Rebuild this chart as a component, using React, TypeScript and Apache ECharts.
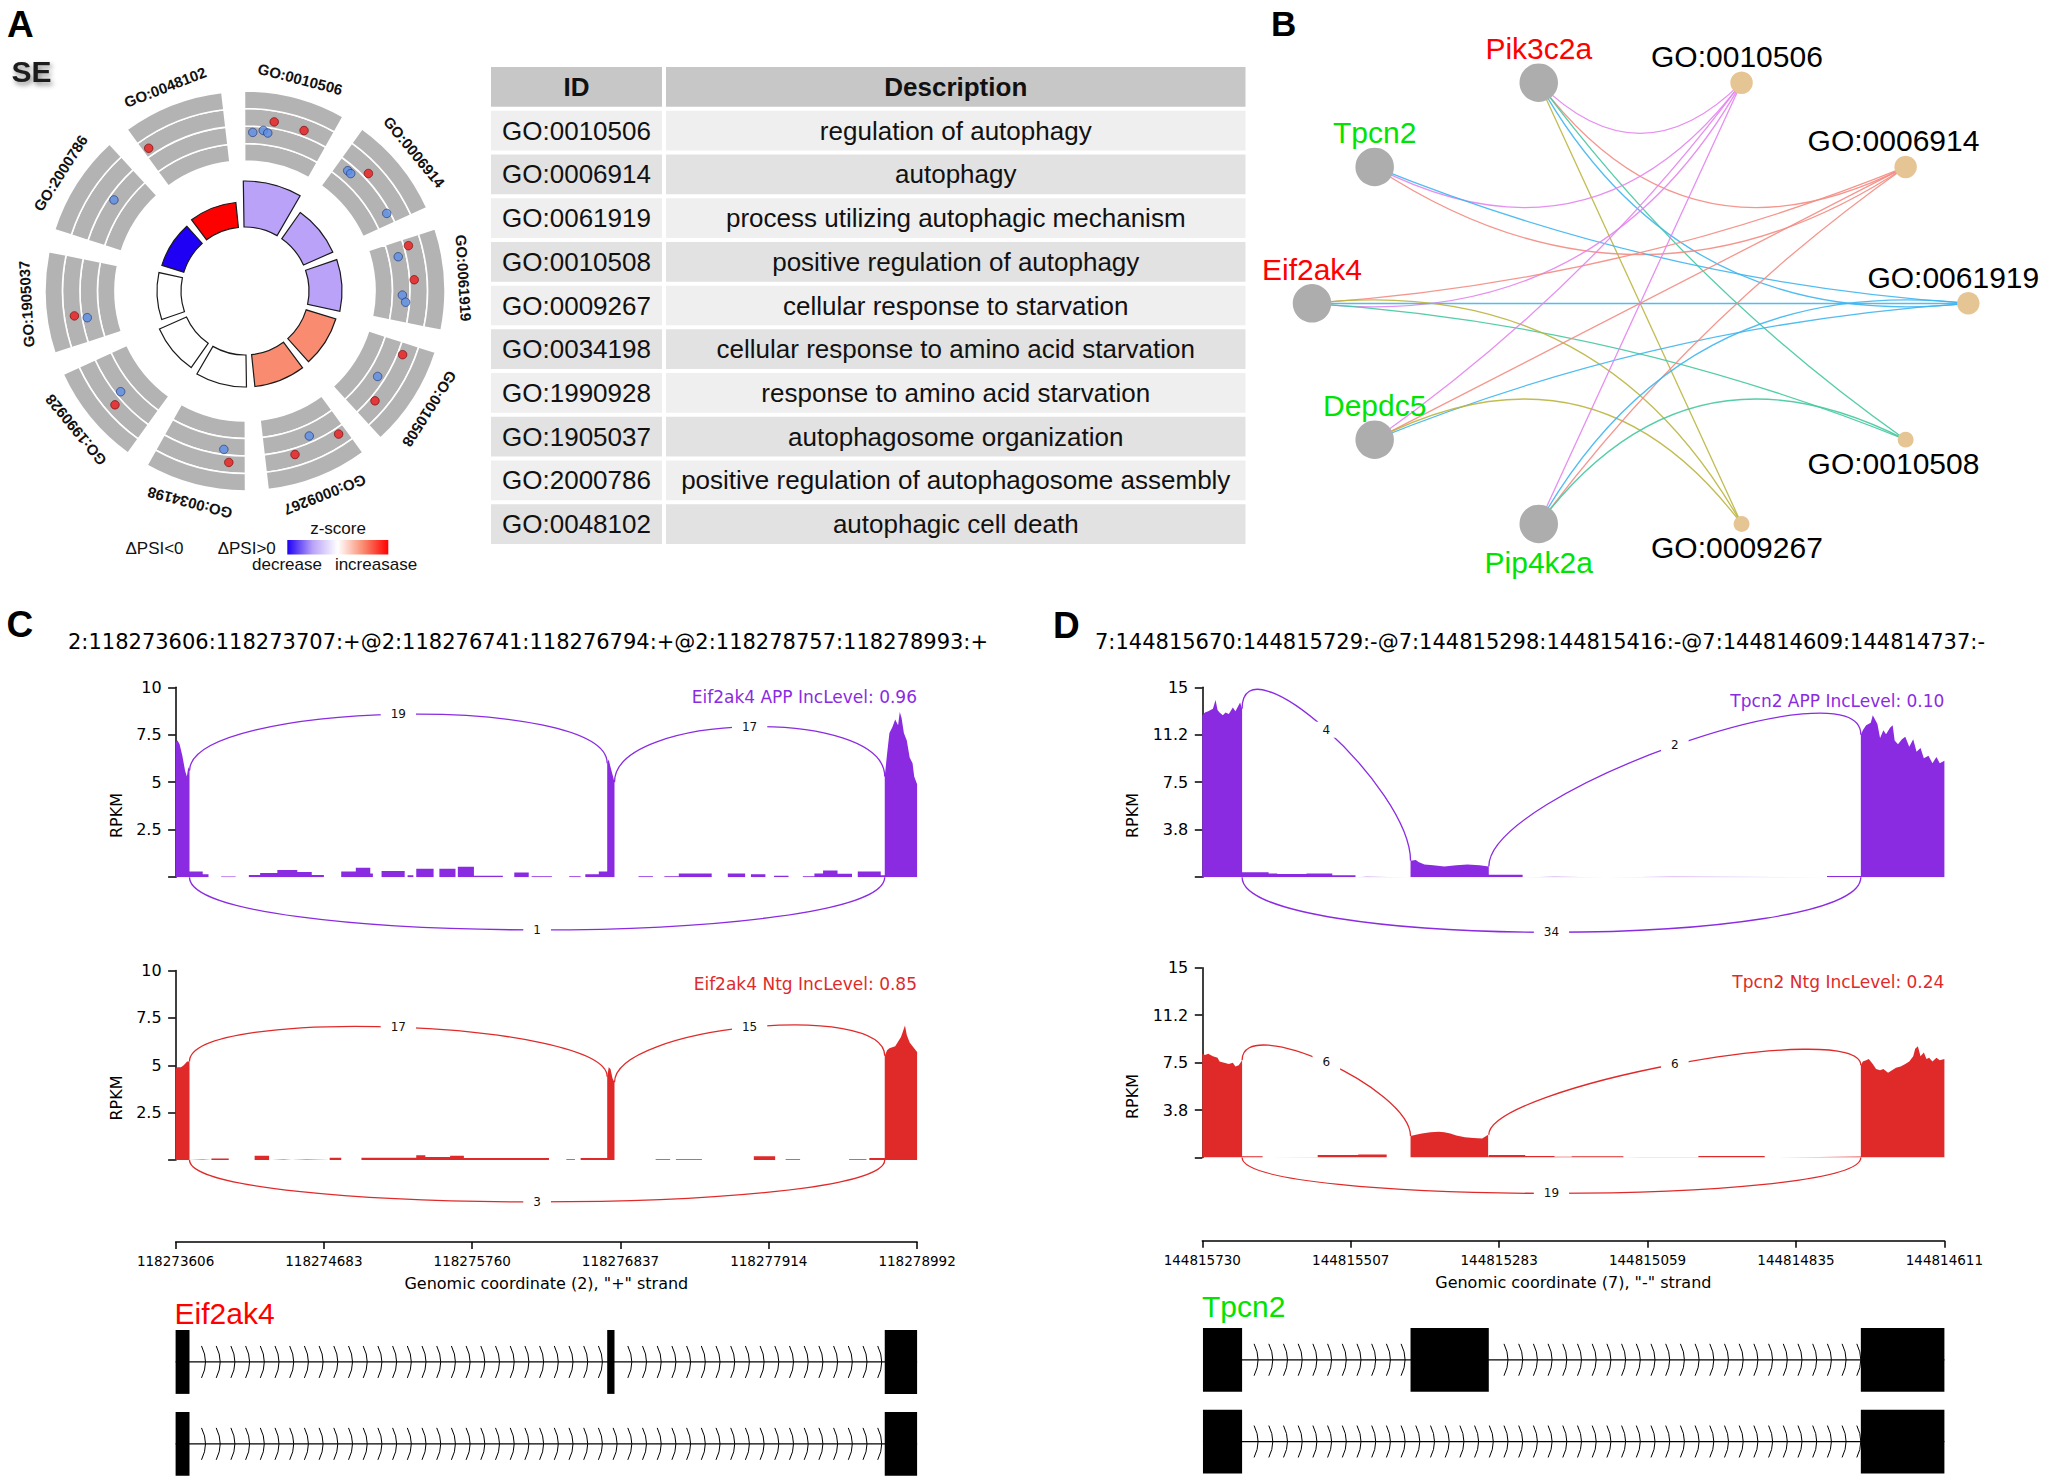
import React, { useEffect, useRef } from 'react';
import * as echarts from 'echarts';

const SANS = '"Liberation Sans", Arial, Helvetica, sans-serif';
const DEJAVU = '"DejaVu Sans", Verdana, sans-serif';

// ---------------- Panel A : GO circle + table ----------------
const goIds = ['GO:0010506', 'GO:0006914', 'GO:0061919', 'GO:0010508', 'GO:0009267', 'GO:0034198', 'GO:1990928', 'GO:1905037', 'GO:2000786', 'GO:0048102'];
const goDescriptions = ['regulation of autophagy', 'autophagy', 'process utilizing autophagic mechanism', 'positive regulation of autophagy', 'cellular response to starvation', 'cellular response to amino acid starvation', 'response to amino acid starvation', 'autophagosome organization', 'positive regulation of autophagosome assembly', 'autophagic cell death'];
const goZScores = [-1.5, -1.5, -1.5, 1.5, 1.5, 0, 0, 0, -3, 3];
const goBarHeights = [0.23, 0.16, 0.165, 0.155, 0.16, 0.16, 0.148, 0.12, 0.115, 0.125];
const dotAngles = [9.8, 20.2, 2.8, 6.5, 8.2, 40.5, 42.0, 46.4, 61.3, 74.5, 77.4, 86.2, 91.5, 94.0, 112.0, 122.8, 130.2, 156.1, 146.8, 163.0, 187.6, 185.4, 231.0, 228.8, 261.7, 260.4, 304.8, 326.0];
const dotRadii = [0.858, 0.855, 0.794, 0.808, 0.798, 0.791, 0.79, 0.852, 0.808, 0.848, 0.785, 0.848, 0.787, 0.805, 0.85, 0.789, 0.851, 0.793, 0.855, 0.855, 0.799, 0.861, 0.8, 0.864, 0.862, 0.8, 0.798, 0.861];
const dotSigns = [1, 1, -1, -1, -1, -1, -1, 1, -1, 1, -1, 1, -1, -1, 1, -1, 1, -1, 1, 1, -1, 1, -1, 1, 1, -1, -1, 1];
const zScoreColors = ['#1f00f5', '#b9a2f7', '#ffffff', '#f98c70', '#ff0000'];
const ringBands = [0.0875, 0.0875, 0.0875, 0.0875];
const tableHeader = ['ID', 'Description'];

// ---------------- Panel B : gene - GO network ----------------
const netGenes = ['Pik3c2a', 'Tpcn2', 'Eif2ak4', 'Depdc5', 'Pip4k2a'];
const netGeneUp = [true, false, true, false, false];
const netTerms = ['GO:0010506', 'GO:0006914', 'GO:0061919', 'GO:0010508', 'GO:0009267'];
const netTermColors = ['#e383ee', '#f38b82', '#3db5ef', '#43c89f', '#bab53f'];
const netCircleOrder = ['Pik3c2a', 'GO:0010506', 'GO:0006914', 'GO:0061919', 'GO:0010508', 'GO:0009267', 'Pip4k2a', 'Depdc5', 'Eif2ak4', 'Tpcn2'];
const netLabelBelow = ['GO:0010508', 'GO:0009267', 'Pip4k2a'];
const netEdges = [
  ['Pik3c2a', 'GO:0010506'], ['Pik3c2a', 'GO:0006914'], ['Pik3c2a', 'GO:0061919'], ['Pik3c2a', 'GO:0010508'], ['Pik3c2a', 'GO:0009267'],
  ['Tpcn2', 'GO:0010506'], ['Tpcn2', 'GO:0006914'], ['Tpcn2', 'GO:0061919'],
  ['Eif2ak4', 'GO:0010506'], ['Eif2ak4', 'GO:0006914'], ['Eif2ak4', 'GO:0061919'], ['Eif2ak4', 'GO:0010508'], ['Eif2ak4', 'GO:0009267'],
  ['Depdc5', 'GO:0010506'], ['Depdc5', 'GO:0006914'], ['Depdc5', 'GO:0061919'], ['Depdc5', 'GO:0009267'],
  ['Pip4k2a', 'GO:0010506'], ['Pip4k2a', 'GO:0006914'], ['Pip4k2a', 'GO:0061919'], ['Pip4k2a', 'GO:0010508'],
];
const edgeCurvenessBySeparation = { 36: 0.5, 72: 0.42, 108: 0.33, 144: 0.08, 180: 0 };

// ---------------- Panel C : Eif2ak4 sashimi ----------------
const cTitle = '2:118273606:118273707:+@2:118276741:118276794:+@2:118278757:118278993:+';
const cRange = [118273606, 118278992];
const cXTickLabels = ['118273606', '118274683', '118275760', '118276837', '118277914', '118278992'];
const cYTickLabels = ['', '2.5', '5', '7.5', '10'];
const cAppExons = [
  [[118273606, 7.1], [118273620, 7.2], [118273635, 7.0], [118273655, 6.4], [118273675, 5.6], [118273688, 5.3], [118273698, 5.8], [118273707, 5.6]],
  [[118276741, 6.0], [118276752, 6.2], [118276765, 5.8], [118276780, 5.4], [118276794, 5.0]],
  [[118278757, 5.3], [118278774, 6.5], [118278791, 7.6], [118278812, 7.9], [118278833, 8.3], [118278854, 8.0], [118278866, 8.7], [118278879, 8.4], [118278896, 7.6], [118278917, 7.2], [118278938, 6.3], [118278959, 6.0], [118278971, 5.3], [118278992, 4.9]],
];
const cAppIntrons = [
  [118273707, 118273803, 0.3], [118273803, 118273845, 0.15], [118273937, 118274042, 0.04],
  [118274138, 118274220, 0.12], [118274220, 118274345, 0.22], [118274345, 118274490, 0.38], [118274490, 118274595, 0.28], [118274595, 118274683, 0.12],
  [118274809, 118274915, 0.3], [118274915, 118275020, 0.5], [118275020, 118275039, 0.2], [118275102, 118275270, 0.32], [118275291, 118275333, 0.1],
  [118275354, 118275480, 0.45], [118275522, 118275639, 0.45], [118275656, 118275773, 0.55], [118275773, 118275983, 0.08], [118276066, 118276171, 0.25],
  [118276192, 118276339, 0.05], [118276465, 118276548, 0.05], [118276582, 118276680, 0.15], [118276680, 118276741, 0.3],
  [118276968, 118277073, 0.05], [118277156, 118277261, 0.05], [118277261, 118277500, 0.2], [118277617, 118277743, 0.2], [118277785, 118277890, 0.15],
  [118277953, 118278058, 0.08], [118278162, 118278246, 0.05], [118278246, 118278309, 0.2], [118278309, 118278414, 0.35], [118278414, 118278519, 0.18],
  [118278561, 118278728, 0.3], [118278728, 118278757, 0.1],
];
const cAppJunctions = [[118273707, 118276741, 19, 5.6, 6.0, 1], [118276794, 118278757, 17, 5.0, 5.3, 1], [118273707, 118278757, 1, 0, 0, -1]];
const cAppArcHeight = 3.7;
const cNtgExons = [
  [[118273606, 4.8], [118273620, 4.9], [118273645, 4.9], [118273665, 5.0], [118273690, 5.2], [118273707, 5.2]],
  [[118276741, 4.4], [118276752, 4.9], [118276765, 4.8], [118276780, 4.3], [118276794, 4.1]],
  [[118278757, 5.5], [118278774, 5.8], [118278791, 5.9], [118278833, 6.0], [118278875, 6.5], [118278904, 7.1], [118278917, 6.6], [118278938, 6.2], [118278959, 6.0], [118278992, 5.7]],
];
const cNtgIntrons = [
  [118273707, 118273803, 0.03], [118273866, 118273992, 0.08], [118274180, 118274285, 0.22], [118274306, 118274390, 0.03], [118274450, 118274557, 0.03],
  [118274725, 118274809, 0.12], [118274956, 118275354, 0.12], [118275354, 118275420, 0.25], [118275420, 118275600, 0.16], [118275600, 118275700, 0.22],
  [118275700, 118276318, 0.1], [118276444, 118276507, 0.04], [118276548, 118276741, 0.1],
  [118277093, 118277198, 0.04], [118277240, 118277429, 0.04], [118277806, 118277961, 0.2], [118278037, 118278142, 0.04], [118278498, 118278624, 0.04], [118278645, 118278757, 0.1],
];
const cNtgJunctions = [[118273707, 118276741, 17, 5.2, 4.4, 1], [118276794, 118278757, 15, 4.1, 5.5, 1], [118273707, 118278757, 3, 0, 0, -1]];
const cNtgArcHeight = 2.95;
const cTranscripts = [
  [[118273606, 118273707], [118276741, 118276794], [118278757, 118278993]],
  [[118273606, 118273707], [118278757, 118278993]],
];

// ---------------- Panel D : Tpcn2 sashimi ----------------
const dTitle = '7:144815670:144815729:-@7:144815298:144815416:-@7:144814609:144814737:-';
const dRange = [144814611, 144815730];
const dXTickLabels = ['144815730', '144815507', '144815283', '144815059', '144814835', '144814611'];
const dYTickLabels = ['', '3.8', '7.5', '11.2', '15'];
const dAppExons = [
  [[144815730, 12.8], [144815726, 13.0], [144815721, 13.1], [144815714, 13.3], [144815710, 14.0], [144815707, 13.2], [144815704, 13.0], [144815699, 12.8], [144815695, 13.0], [144815690, 12.9], [144815684, 13.4], [144815680, 13.1], [144815676, 13.5], [144815673, 13.8], [144815670, 13.3]],
  [[144815416, 1.3], [144815408, 1.35], [144815404, 1.2], [144815395, 1.0], [144815382, 0.95], [144815365, 0.85], [144815347, 0.95], [144815330, 1.0], [144815312, 0.95], [144815298, 0.85]],
  [[144814737, 11.26], [144814734, 11.6], [144814729, 12.0], [144814722, 12.2], [144814719, 12.8], [144814712, 12.1], [144814708, 11.0], [144814703, 11.6], [144814699, 11.3], [144814693, 11.8], [144814689, 12.0], [144814686, 10.8], [144814681, 10.5], [144814675, 10.9], [144814670, 11.1], [144814664, 10.3], [144814658, 10.9], [144814653, 9.9], [144814647, 10.2], [144814642, 9.4], [144814635, 9.6], [144814629, 9.0], [144814623, 9.5], [144814618, 9.0], [144814611, 9.2]],
];
const dAppIntrons = [
  [144815670, 144815630, 0.4], [144815630, 144815617, 0.3], [144815617, 144815573, 0.25], [144815573, 144815534, 0.3], [144815534, 144815499, 0.15], [144815499, 144815482, 0.04],
  [144815298, 144815247, 0.2], [144815247, 144815199, 0.03], [144815121, 144815021, 0.03], [144814788, 144814737, 0.1],
];
const dAppJunctions = [[144815670, 144815416, 4, 13.3, 1.3, 1], [144815298, 144814737, 2, 0.85, 11.26, 1], [144815670, 144814737, 34, 0, 0, -1]];
const dAppArcHeight = 5.8;
const dNtgExons = [
  [[144815730, 8.2], [144815726, 8.1], [144815721, 8.2], [144815714, 8.0], [144815707, 7.9], [144815704, 7.6], [144815697, 7.5], [144815690, 7.4], [144815684, 7.5], [144815680, 7.2], [144815675, 7.3], [144815670, 7.7]],
  [[144815416, 1.7], [144815408, 1.8], [144815399, 1.9], [144815386, 2.0], [144815373, 2.05], [144815365, 2.0], [144815356, 1.9], [144815347, 1.75], [144815334, 1.6], [144815321, 1.55], [144815308, 1.5], [144815299, 1.8]],
  [[144814737, 7.3], [144814734, 7.6], [144814729, 7.7], [144814725, 7.8], [144814719, 7.4], [144814714, 7.0], [144814708, 6.9], [144814703, 7.0], [144814696, 6.7], [144814690, 6.9], [144814684, 7.1], [144814677, 7.2], [144814670, 7.4], [144814664, 7.6], [144814658, 8.0], [144814655, 8.6], [144814651, 8.8], [144814647, 8.0], [144814642, 8.3], [144814638, 7.8], [144814634, 7.9], [144814629, 7.6], [144814623, 7.9], [144814618, 7.7], [144814611, 7.8]],
];
const dNtgIntrons = [
  [144815670, 144815639, 0.1], [144815639, 144815556, 0.02], [144815556, 144815495, 0.2], [144815495, 144815452, 0.25],
  [144815298, 144815243, 0.2], [144815243, 144815199, 0.12], [144815199, 144815173, 0.06], [144815173, 144815095, 0.1], [144815095, 144815069, 0.03],
  [144815069, 144814982, 0.03], [144814982, 144814882, 0.12], [144814882, 144814829, 0.03], [144814829, 144814737, 0.08],
];
const dNtgJunctions = [[144815670, 144815416, 6, 7.7, 1.7, 1], [144815298, 144814737, 6, 1.8, 7.3, 1], [144815670, 144814737, 19, 0, 0, -1]];
const dNtgArcHeight = 3.77;
const dTranscripts = [
  [[144815670, 144815729], [144815298, 144815416], [144814609, 144814737]],
  [[144815670, 144815729], [144814609, 144814737]],
];

const PURPLE = '#8a2be2';
const RED = '#e02a2a';
const GENE_RED = '#ff0000';
const GENE_GREEN = '#00e400';

// ---------------- helpers ----------------
function hexToRgb(h) {
  const n = parseInt(h.slice(1), 16);
  return [(n >> 16) & 255, (n >> 8) & 255, n & 255];
}
function zColor(z) {
  const t = Math.max(0, Math.min(1, (z + 3) / 6));
  const n = zScoreColors.length - 1;
  const i = Math.min(n - 1, Math.floor(t * n));
  const f = t * n - i;
  const a = hexToRgb(zScoreColors[i]);
  const b = hexToRgb(zScoreColors[i + 1]);
  return 'rgb(' + a.map((v, k) => Math.round(v + (b[k] - v) * f)).join(',') + ')';
}
function buildCoverage(exons, introns, descending) {
  const segs = exons.map((e) => e.slice()).concat(introns.map((b) => [[b[0], b[2]], [b[1], b[2]]]));
  segs.sort((s, t) => (descending ? t[0][0] - s[0][0] : s[0][0] - t[0][0]));
  const out = [];
  segs.forEach((s) => {
    out.push([s[0][0], 0]);
    s.forEach((p) => out.push(p));
    out.push([s[s.length - 1][0], 0]);
  });
  return out;
}
function arcRenderer(color, H) {
  return (params, api) => {
    const x1 = api.value(0), x2 = api.value(1), n = api.value(2), y1 = api.value(3), y2 = api.value(4), side = api.value(5);
    const pts = side > 0 ? [[x1, y1], [x1, y1 + H], [x2, y2 + H], [x2, y2]] : [[x1, 0], [x1, -H], [x2, -H], [x2, 0]];
    const p = pts.map((q) => api.coord(q));
    const mx = 0.125 * p[0][0] + 0.375 * p[1][0] + 0.375 * p[2][0] + 0.125 * p[3][0];
    const my = 0.125 * p[0][1] + 0.375 * p[1][1] + 0.375 * p[2][1] + 0.125 * p[3][1];
    return {
      type: 'group',
      children: [
        {
          type: 'bezierCurve',
          shape: { x1: p[0][0], y1: p[0][1], cpx1: p[1][0], cpy1: p[1][1], cpx2: p[2][0], cpy2: p[2][1], x2: p[3][0], y2: p[3][1] },
          style: { stroke: color, fill: 'none', lineWidth: 1.3 },
        },
        {
          type: 'text',
          x: mx,
          y: my,
          style: {
            text: String(n), fill: '#111', fontSize: 12, fontFamily: DEJAVU,
            align: 'center', verticalAlign: 'middle', textAlign: 'center', textVerticalAlign: 'middle',
            backgroundColor: '#ffffff', padding: [2, 10],
          },
        },
      ],
    };
  };
}
function geneRenderer(transcripts, range) {
  return (params, api) => {
    const row = params.dataIndex;
    const exons = transcripts[row];
    const band = api.size([0, 1])[1];
    const h = band * 0.78;
    const yc = api.coord([range[0], row])[1];
    const cl = (v) => Math.max(range[0], Math.min(range[1], v));
    const spans = exons
      .map((e) => {
        const a = api.coord([cl(e[0]), row])[0];
        const b = api.coord([cl(e[1]), row])[0];
        return [Math.min(a, b), Math.max(a, b)];
      })
      .sort((a, b) => a[0] - b[0]);
    const children = [];
    const left = spans[0][0];
    const right = spans[spans.length - 1][1];
    children.push({ type: 'line', shape: { x1: left, y1: yc, x2: right, y2: yc }, style: { stroke: '#000', lineWidth: 1.2 } });
    const chevH = h * 0.25;
    for (let x = spans[0][1] + 12; x < spans[spans.length - 1][0] - 3; x += 14.7) {
      if (spans.some((s) => x > s[0] - 3 && x < s[1] + 1)) continue;
      children.push({
        type: 'bezierCurve',
        shape: { x1: x, y1: yc - chevH, cpx1: x + 8, cpy1: yc, x2: x, y2: yc + chevH },
        style: { stroke: '#000', fill: 'none', lineWidth: 1 },
      });
    }
    spans.forEach((s) => {
      children.push({ type: 'rect', shape: { x: s[0], y: yc - h / 2, width: s[1] - s[0], height: h }, style: { fill: '#000' } });
    });
    return { type: 'group', children };
  };
}
function txt(text, x, y, font, fill, align, extra) {
  return {
    type: 'text', x, y, silent: true,
    style: Object.assign({ text, font, fill, align: align || 'left', textAlign: align || 'left', verticalAlign: 'middle', textVerticalAlign: 'middle' }, extra || {}),
  };
}

function buildOption() {
  const base = { containLabel: false, outerBoundsMode: 'none' };
  const grid = [
    { left: 175.6, top: 687.3, width: 741.5, height: 189.9 },
    { left: 175.6, top: 970.6, width: 741.5, height: 189.4 },
    { left: 175.6, top: 1231.9, width: 741.5, height: 10 },
    { left: 175.6, top: 1321, width: 741.5, height: 163.8 },
    { left: 1202.3, top: 687.3, width: 742.1, height: 189.9 },
    { left: 1202.3, top: 967.8, width: 742.1, height: 189.8 },
    { left: 1202.3, top: 1230.7, width: 742.1, height: 10 },
    { left: 1202.3, top: 1318.9, width: 742.1, height: 163.5 },
    { left: 489, top: 65, width: 758.5, height: 481 },
    { left: 1312, top: 71.3, width: 656.3, height: 464 },
  ].map((g) => Object.assign({}, base, g));

  const hiddenX = (gi, range, inverse) => ({ gridIndex: gi, type: 'value', min: range[0], max: range[1], inverse: !!inverse, show: false });
  const visibleX = (gi, labels, name) => ({
    gridIndex: gi, type: 'value', min: 0, max: 5, interval: 1, position: 'bottom',
    axisLine: { show: true, lineStyle: { color: '#000', width: 1.5 } },
    axisTick: { show: true, length: 7, lineStyle: { color: '#000', width: 1.5 } },
    axisLabel: { formatter: (v) => labels[Math.round(v)], fontSize: 13.5, fontFamily: DEJAVU, color: '#000', margin: 12, showMinLabel: true, showMaxLabel: true },
    splitLine: { show: false },
    name, nameLocation: 'middle', nameGap: 34, nameTextStyle: { fontSize: 16, fontFamily: DEJAVU, color: '#000' },
  });
  const covY = (gi, max, interval, labels) => ({
    gridIndex: gi, type: 'value', min: 0, max, interval,
    axisLine: { show: true, lineStyle: { color: '#000', width: 1.5 } },
    axisTick: { show: true, length: 7.5, lineStyle: { color: '#000', width: 1.5 } },
    axisLabel: { formatter: (v) => labels[Math.round(v / interval)], fontSize: 16, fontFamily: DEJAVU, color: '#000', margin: 14 },
    splitLine: { show: false },
  });
  const hiddenY = (gi) => ({ gridIndex: gi, type: 'value', min: 0, max: 1, show: false });

  const xAxis = [
    hiddenX(0, cRange), hiddenX(1, cRange), visibleX(2, cXTickLabels, 'Genomic coordinate (2), "+" strand'), hiddenX(3, cRange),
    hiddenX(4, dRange, true), hiddenX(5, dRange, true), visibleX(6, dXTickLabels, 'Genomic coordinate (7), "-" strand'), hiddenX(7, dRange, true),
    { gridIndex: 8, type: 'value', min: 0, max: 758.5, show: false },
    { gridIndex: 9, type: 'value', min: -1, max: 1, show: false },
  ];
  const yAxis = [
    covY(0, 10, 2.5, cYTickLabels), covY(1, 10, 2.5, cYTickLabels), hiddenY(2),
    { gridIndex: 3, type: 'category', data: ['t1', 't2'], inverse: true, show: false },
    covY(4, 15, 3.75, dYTickLabels), covY(5, 15, 3.75, dYTickLabels), hiddenY(6),
    { gridIndex: 7, type: 'category', data: ['t1', 't2'], inverse: true, show: false },
    { gridIndex: 8, type: 'category', data: ['h'].concat(goIds), inverse: true, show: false },
    { gridIndex: 9, type: 'value', min: -1, max: 1, show: false },
  ];

  const series = [];

  // ---- Panel A : GO circle ----
  series.push({
    type: 'bar', coordinateSystem: 'polar', polarIndex: 0, stack: 'ring', silent: true, barCategoryGap: '18%',
    data: goIds.map(() => 0.65), itemStyle: { color: 'rgba(0,0,0,0)' },
  });
  ringBands.forEach((b) => {
    series.push({
      type: 'bar', coordinateSystem: 'polar', polarIndex: 0, stack: 'ring', silent: true, barCategoryGap: '18%',
      data: goIds.map(() => b), itemStyle: { color: '#b3b3b3', borderColor: '#ffffff', borderWidth: 1.6 },
    });
  });
  series.push({
    type: 'bar', coordinateSystem: 'polar', polarIndex: 1, stack: 'inner', silent: true, barCategoryGap: '14%',
    data: goIds.map(() => 0.32), itemStyle: { color: 'rgba(0,0,0,0)' },
  });
  series.push({
    type: 'bar', coordinateSystem: 'polar', polarIndex: 1, stack: 'inner', silent: true, barCategoryGap: '14%',
    data: goBarHeights.map((h, i) => ({ value: h, itemStyle: { color: zColor(goZScores[i]) } })),
    itemStyle: { borderColor: '#1a1a1a', borderWidth: 1.2 },
  });
  series.push({
    type: 'scatter', coordinateSystem: 'polar', polarIndex: 2, silent: true, symbolSize: 8.5,
    data: dotAngles.map((a, i) => ({
      value: [dotRadii[i], a],
      itemStyle: { color: dotSigns[i] > 0 ? '#ee1c1c' : '#5b8fe6', borderColor: dotSigns[i] > 0 ? '#6e0000' : '#1c2f70', borderWidth: 0.8 },
    })),
  });
  series.push({
    type: 'scatter', coordinateSystem: 'polar', polarIndex: 2, silent: true, symbolSize: 0.5,
    itemStyle: { color: 'rgba(255,255,255,0)' },
    label: { show: true, position: 'inside', formatter: '{b}', fontSize: 15, fontWeight: 'bold', fontFamily: SANS, color: '#111', opacity: 1 },
    labelLayout: { hideOverlap: false },
    data: goIds.map((id, i) => {
      const ang = 14.6 + 36 * i;
      return { name: id, value: [1.095, ang], label: { rotate: -ang } };
    }),
    z: 5,
  });

  // ---- Panel A : table ----
  const idCol = [tableHeader[0]].concat(goIds);
  const descCol = [tableHeader[1]].concat(goDescriptions);
  const rowColor = (i) => (i === 0 ? '#c7c7c7' : i % 2 === 1 ? '#efefef' : '#e2e2e2');
  const tableLabel = { show: true, position: 'inside', fontSize: 26, fontFamily: SANS, color: '#111' };
  series.push({
    type: 'bar', xAxisIndex: 8, yAxisIndex: 8, stack: 'row', silent: true, barCategoryGap: '0%',
    itemStyle: { borderColor: '#ffffff', borderWidth: 2 },
    label: Object.assign({}, tableLabel, { formatter: (p) => idCol[p.dataIndex] }),
    data: idCol.map((t, i) => ({ value: 175, itemStyle: { color: rowColor(i) }, label: { fontWeight: i === 0 ? 'bold' : 'normal' } })),
  });
  series.push({
    type: 'bar', xAxisIndex: 8, yAxisIndex: 8, stack: 'row', silent: true, barCategoryGap: '0%',
    itemStyle: { borderColor: '#ffffff', borderWidth: 2 },
    label: Object.assign({}, tableLabel, { formatter: (p) => descCol[p.dataIndex] }),
    data: descCol.map((t, i) => ({ value: 583.5, itemStyle: { color: rowColor(i) }, label: { fontWeight: i === 0 ? 'bold' : 'normal' } })),
  });

  // ---- Panel B : network ----
  const NET_A = 328, NET_B = 232;
  const angleOf = (name) => 108 - 36 * netCircleOrder.indexOf(name);
  const degree = (name) => netEdges.filter((e) => e[0] === name || e[1] === name).length;
  const nodes = netCircleOrder.map((name) => {
    const a = (angleOf(name) * Math.PI) / 180;
    const gi = netGenes.indexOf(name);
    const isGene = gi >= 0;
    const below = netLabelBelow.indexOf(name) >= 0;
    const labelColor = isGene ? (netGeneUp[gi] ? GENE_RED : GENE_GREEN) : '#000';
    const offX = !isGene && Math.cos(a) > 0.1 ? -15 * Math.cos(a) : 0;
    return {
      name,
      value: [Math.cos(a), Math.sin(a)],
      symbolSize: isGene ? 38.5 : 6 + 3.3 * degree(name),
      itemStyle: { color: isGene ? '#adadad' : '#e6c594' },
      label: {
        show: true, position: below ? 'bottom' : 'top', distance: below ? (isGene ? 4 : 1) : 0,
        offset: [offX, 0], color: labelColor, fontSize: 30, fontFamily: SANS,
      },
    };
  });
  const links = netEdges.map(([g, t]) => {
    const a1d = angleOf(g), a2d = angleOf(t);
    const a1 = (a1d * Math.PI) / 180, a2 = (a2d * Math.PI) / 180;
    const px1 = Math.cos(a1) * NET_A, py1 = -Math.sin(a1) * NET_B;
    const px2 = Math.cos(a2) * NET_A, py2 = -Math.sin(a2) * NET_B;
    let d = Math.abs(a1d - a2d) % 360;
    if (d > 180) d = 360 - d;
    const mag = edgeCurvenessBySeparation[Math.round(d / 36) * 36] || 0;
    const nx = py2 - py1, ny = px1 - px2;
    const cx = -(px1 + px2) / 2, cy = -(py1 + py2) / 2;
    const sign = nx * cx + ny * cy >= 0 ? 1 : -1;
    return { source: g, target: t, lineStyle: { color: netTermColors[netTerms.indexOf(t)], curveness: sign * mag, width: 1.3, opacity: 0.9 } };
  });
  series.push({
    type: 'graph', coordinateSystem: 'cartesian2d', xAxisIndex: 9, yAxisIndex: 9, layout: 'none', silent: true,
    data: nodes, links, lineStyle: { width: 1.3, opacity: 0.9 }, emphasis: { disabled: true }, z: 3,
  });

  // ---- Panels C, D : sashimi ----
  const covSeries = (gi, data, color) => ({
    type: 'line', xAxisIndex: gi, yAxisIndex: gi, data, symbol: 'none', silent: true,
    lineStyle: { width: 0, color }, areaStyle: { color, opacity: 1 }, z: 2,
  });
  const arcSeries = (gi, data, color, H) => ({
    type: 'custom', xAxisIndex: gi, yAxisIndex: gi, data, silent: true, clip: false, z: 4,
    encode: { x: [0, 1], y: [3, 4] }, renderItem: arcRenderer(color, H),
  });
  const geneSeries = (gi, transcripts, range) => ({
    type: 'custom', xAxisIndex: gi, yAxisIndex: gi, silent: true, clip: false,
    data: transcripts.map((t, i) => [range[0], i]), encode: { x: 0, y: 1 }, renderItem: geneRenderer(transcripts, range),
  });
  series.push(covSeries(0, buildCoverage(cAppExons, cAppIntrons, false), PURPLE));
  series.push(arcSeries(0, cAppJunctions, PURPLE, cAppArcHeight));
  series.push(covSeries(1, buildCoverage(cNtgExons, cNtgIntrons, false), RED));
  series.push(arcSeries(1, cNtgJunctions, RED, cNtgArcHeight));
  series.push(geneSeries(3, cTranscripts, cRange));
  series.push(covSeries(4, buildCoverage(dAppExons, dAppIntrons, true), PURPLE));
  series.push(arcSeries(4, dAppJunctions, PURPLE, dAppArcHeight));
  series.push(covSeries(5, buildCoverage(dNtgExons, dNtgIntrons, true), RED));
  series.push(arcSeries(5, dNtgJunctions, RED, dNtgArcHeight));
  series.push(geneSeries(7, dTranscripts, dRange));

  const polarBase = { center: [245, 291], radius: [0, 240] };
  const graphicEls = [
    txt('A', 7, 24.5, `bold 37px ${SANS}`, '#000'),
    txt('B', 1271, 23.5, `bold 35px ${SANS}`, '#000'),
    txt('C', 6.5, 624, `bold 37px ${SANS}`, '#000'),
    txt('D', 1053, 625, `bold 37px ${SANS}`, '#000'),
    txt('SE', 11.5, 71, `bold 30px ${SANS}`, '#1c1c1c', 'left', { textShadowColor: 'rgba(0,0,0,0.45)', textShadowBlur: 5, textShadowOffsetX: 2, textShadowOffsetY: 3 }),
    txt('z-score', 338, 528, `17px ${SANS}`, '#111', 'center'),
    txt('ΔPSI<0', 154.5, 548, `17px ${SANS}`, '#111', 'center'),
    txt('ΔPSI>0', 246.7, 548, `17px ${SANS}`, '#111', 'center'),
    txt('decrease', 287, 564.5, `17px ${SANS}`, '#111', 'center'),
    txt('increasase', 376, 564.5, `17px ${SANS}`, '#111', 'center'),
    {
      type: 'rect', silent: true, shape: { x: 287.3, y: 540, width: 101, height: 14.6 },
      style: {
        fill: new echarts.graphic.LinearGradient(0, 0, 1, 0, zScoreColors.map((c, i) => ({ offset: i / (zScoreColors.length - 1), color: c }))),
      },
    },
    txt(cTitle, 68, 642, `21px ${DEJAVU}`, '#000'),
    txt(dTitle, 1095, 642, `21px ${DEJAVU}`, '#000'),
    txt('Eif2ak4 APP IncLevel: 0.96', 917, 696.6, `17px ${DEJAVU}`, PURPLE, 'right'),
    txt('Eif2ak4 Ntg IncLevel: 0.85', 917, 984, `17px ${DEJAVU}`, RED, 'right'),
    txt('Tpcn2 APP IncLevel: 0.10', 1944.4, 701, `17px ${DEJAVU}`, PURPLE, 'right'),
    txt('Tpcn2 Ntg IncLevel: 0.24', 1944.4, 982, `17px ${DEJAVU}`, RED, 'right'),
    Object.assign(txt('RPKM', 116, 815.5, `16px ${DEJAVU}`, '#000', 'center'), { rotation: Math.PI / 2 }),
    Object.assign(txt('RPKM', 116, 1098, `16px ${DEJAVU}`, '#000', 'center'), { rotation: Math.PI / 2 }),
    Object.assign(txt('RPKM', 1132, 815.5, `16px ${DEJAVU}`, '#000', 'center'), { rotation: Math.PI / 2 }),
    Object.assign(txt('RPKM', 1132, 1096.5, `16px ${DEJAVU}`, '#000', 'center'), { rotation: Math.PI / 2 }),
    txt('Eif2ak4', 174.5, 1313, `30px ${SANS}`, GENE_RED),
    txt('Tpcn2', 1202, 1306, `30px ${SANS}`, GENE_GREEN),
  ];

  return {
    animation: false,
    backgroundColor: '#ffffff',
    textStyle: { fontFamily: SANS },
    grid,
    xAxis,
    yAxis,
    polar: [polarBase, polarBase, polarBase],
    angleAxis: [
      { polarIndex: 0, type: 'category', data: goIds, startAngle: 93.4, clockwise: true, show: false },
      { polarIndex: 1, type: 'category', data: goIds, startAngle: 93.4, clockwise: true, show: false },
      { polarIndex: 2, type: 'value', min: 0, max: 360, startAngle: 90, clockwise: true, show: false },
    ],
    radiusAxis: [
      { polarIndex: 0, type: 'value', min: 0, max: 1.2, show: false },
      { polarIndex: 1, type: 'value', min: 0, max: 1.2, show: false },
      { polarIndex: 2, type: 'value', min: 0, max: 1.2, show: false },
    ],
    graphic: { elements: graphicEls },
    series,
  };
}

export default function App() {
  const ref = useRef(null);
  useEffect(() => {
    if (!ref.current) return undefined;
    const chart = echarts.init(ref.current, null, { renderer: 'svg' });
    chart.setOption(buildOption());
    return () => chart.dispose();
  }, []);
  return (
    <div
      ref={ref}
      style={{ position: 'absolute', left: 0, top: 0, width: 2050, height: 1480, background: '#ffffff' }}
    />
  );
}
